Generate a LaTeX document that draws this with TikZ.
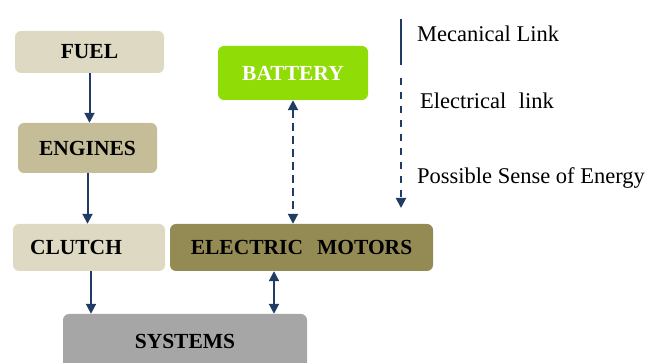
\documentclass[tikz,border=0pt]{standalone}
\usepackage{fontspec}
\setmainfont{Liberation Serif}
\usetikzlibrary{arrows.meta}
\definecolor{navy}{HTML}{203C64}
\definecolor{tanlight}{HTML}{DDD9C3}
\definecolor{tanmid}{HTML}{C4BD97}
\definecolor{olive}{HTML}{948A54}
\definecolor{lime}{HTML}{8FDC06}
\definecolor{greybox}{HTML}{A6A6A6}
\tikzset{
  box/.style={rounded corners=6pt, inner sep=0pt, font=\fontsize{21.5}{24}\selectfont\bfseries, text=black},
  arr/.style={navy, line width=2pt, -{Triangle[width=10pt,length=10pt]}},
  dbl/.style={navy, line width=2pt, {Triangle[width=10pt,length=10pt]}-{Triangle[width=10pt,length=10pt]}},
  dsh/.style={dash pattern=on 8pt off 5pt},
  legtext/.style={anchor=west, inner sep=0pt, font=\fontsize{22.5}{25}\selectfont}
}
\begin{document}
\begin{tikzpicture}[x=1pt,y=-1pt]
\useasboundingbox (0,0) rectangle (665,363);
\begin{scope}
\clip (0,0) rectangle (665,363);
\node[box, fill=tanlight, minimum width=149pt, minimum height=42pt] (fuel) at (89.5,52) {FUEL};
\node[box, fill=tanmid, minimum width=139pt, minimum height=50pt] (engines) at (87.5,148) {ENGINES};
\node[box, fill=lime, text=white, minimum width=150pt, minimum height=54pt] (battery) at (293,73) {BATTERY};
\node[box, fill=tanlight, minimum width=152pt, minimum height=47pt] (clutch) at (89,247.5) {\hspace*{-26pt}CLUTCH};
\node[box, fill=olive, minimum width=263pt, minimum height=47pt] (motors) at (301.5,247.5) {ELECTRIC\hspace{0.4em} MOTORS};
\node[box, fill=greybox, minimum width=244pt, minimum height=54pt] (systems) at (185,341) {SYSTEMS};
\end{scope}

\draw[arr] (fuel.south) -- (fuel.south |- engines.north);
\draw[arr] (engines.south) -- (engines.south |- clutch.north);
\draw[arr] ([xshift=2pt]clutch.south) -- ([xshift=2pt]clutch.south |- systems.north);
\draw[dbl] ([xshift=-27.5pt]motors.south) -- ([xshift=-27.5pt]motors.south |- systems.north);
\draw[dbl, dsh] (battery.south) -- (battery.south |- motors.north);

% legend
\coordinate (m1) at (401,19);
\coordinate (m2) at (401,65);
\coordinate (e1) at (401,78);
\coordinate (e2) at (401,208);
\draw[navy, line width=2pt] (m1) -- (m2);
\draw[arr, dash pattern=on 7pt off 7pt] (e1) -- (e2);
\node[legtext] (tm) at (417,34) {Mecanical Link};
\node[legtext] (te) at (420,101) {Electrical\hspace{0.3em} link};
\node[legtext] (tp) at (417,178) {Possible Sense of Energy};
\end{tikzpicture}
\end{document}
